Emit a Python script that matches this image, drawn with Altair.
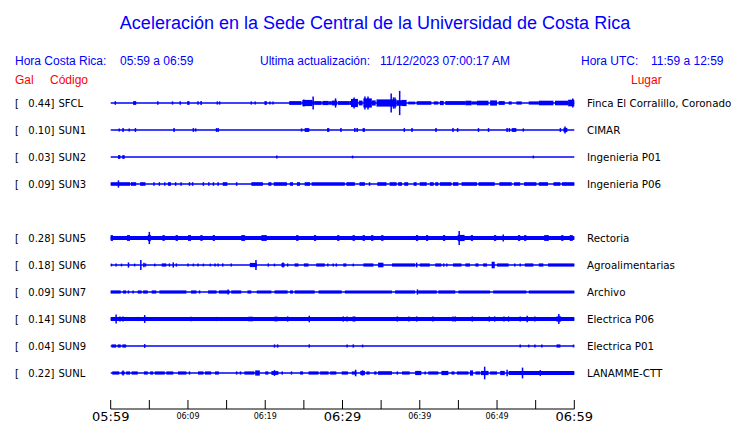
import altair as alt
import pandas as pd

# ---------------- data ----------------
TITLE = "Aceleración en la Sede Central de la Universidad de Costa Rica"
codes = ["SFCL", "SUN1", "SUN2", "SUN3", "SUN5", "SUN6", "SUN7", "SUN8", "SUN9", "SUNL"]
rows = [0, 1, 2, 3, 5, 6, 7, 8, 9, 10]
gal = ["0.44", "0.10", "0.03", "0.09", "0.28", "0.18", "0.09", "0.14", "0.04", "0.22"]
places = ["Finca El Corralillo, Coronado", "CIMAR", "Ingenieria P01", "Ingenieria P06",
          "Rectoria", "Agroalimentarias", "Archivo", "Electrica P06", "Electrica P01", "LANAMME-CTT"]

tick_minutes = list(range(0, 61, 5))
big_minutes = [0, 30, 60]
big_labels = ["05:59", "06:29", "06:59"]
small_minutes = [10, 20, 40, 50]
small_labels = ["06:09", "06:19", "06:39", "06:49"]

# trace envelopes: (start minute, end minute, half amplitude) ; start == end -> single spike
sfcl = [(2.9, 3.3, 1.3), (9.9, 10.2, 1.3), (19.9, 20.2, 1.3), (23.1, 24.7, 1.3), (24.8, 26.1, 2.5),
        (26.1, 26.4, 1.5), (26.4, 27.3, 1.3), (27.4, 28.2, 1.5), (28.2, 28.6, 1.2), (28.6, 29.3, 1.8),
        (29.4, 30.9, 1.3), (30.9, 31.1, 1.5), (31.1, 32.0, 3.5), (32.1, 32.6, 1.8), (32.7, 33.8, 4.0),
        (33.8, 34.3, 2.0), (34.4, 37.0, 3.0), (37.0, 37.7, 2.2), (37.7, 38.3, 2.5), (38.5, 39.4, 0.8),
        (39.6, 41.5, 1.2), (41.8, 42.4, 1.0), (42.6, 43.1, 1.5), (43.3, 45.9, 1.3), (45.9, 46.7, 1.7),
        (46.7, 47.4, 1.0), (47.4, 48.9, 1.7), (49.1, 50.0, 2.0), (50.2, 51.0, 1.3), (51.5, 51.9, 1.0),
        (52.5, 53.2, 1.0), (54.1, 55.4, 1.0), (55.4, 57.3, 1.7), (57.5, 59.2, 1.7), (59.2, 60.0, 2.7),
        (0.6, 0.6, 1.2), (6.1, 6.1, 1.2), (8.0, 8.0, 1.0), (9.0, 9.0, 1.2), (11.3, 11.3, 1.2),
        (11.7, 11.7, 1.3), (13.8, 13.8, 1.0), (14.1, 14.1, 1.0), (18.2, 18.2, 1.0), (18.7, 18.7, 1.0),
        (20.6, 20.6, 1.0), (21.0, 21.0, 0.8), (25.0, 25.0, 3.0), (26.2, 26.2, 6.0), (29.1, 29.1, 4.0),
        (31.5, 31.5, 5.0), (32.9, 32.9, 6.0), (33.3, 33.3, 6.0), (36.3, 36.3, 9.0), (36.6, 36.6, 5.0),
        (36.8, 36.8, 5.0), (37.4, 37.4, 11.5), (59.8, 59.8, 4.0)]
sun1 = [(1.1, 1.1, 0.8), (1.6, 1.6, 1.3), (2.4, 2.4, 0.8), (3.2, 3.2, 1.3), (8.2, 8.2, 1.3),
        (10.7, 10.7, 1.3), (11.0, 11.0, 1.0), (13.7, 13.7, 1.3), (13.9, 13.9, 1.3), (24.7, 24.7, 1.0),
        (25.1, 25.7, 1.3), (28.0, 28.3, 1.3), (29.8, 29.8, 1.3), (31.6, 31.6, 1.3), (31.9, 31.9, 1.3),
        (32.6, 32.9, 1.3), (38.0, 38.0, 1.3), (39.0, 39.0, 1.3), (42.1, 42.1, 1.3), (44.3, 44.3, 1.3),
        (44.8, 45.0, 1.3), (47.6, 47.6, 1.3), (48.9, 48.9, 1.3), (51.3, 51.3, 1.3), (51.6, 51.6, 1.3),
        (51.9, 52.5, 1.3), (53.4, 53.4, 1.0), (58.2, 58.2, 1.3), (58.6, 59.1, 1.5), (58.8, 58.8, 3.0)]
sun2 = [(0.95, 1.25, 1.3), (1.5, 1.8, 1.3), (21.5, 21.5, 0.8), (31.3, 31.3, 0.8), (54.7, 54.7, 0.8)]
sun3 = [(0.0, 2.5, 1.2), (2.6, 3.3, 1.2), (3.8, 4.5, 1.2), (5.6, 5.6, 1.2), (6.3, 6.3, 1.2),
        (7.0, 7.0, 1.2), (7.4, 7.8, 1.2), (8.4, 8.4, 1.2), (9.1, 9.1, 1.2), (10.2, 10.2, 1.2),
        (10.6, 10.6, 1.2), (12.0, 12.0, 1.2), (12.7, 12.7, 1.2), (13.3, 13.3, 1.2), (13.9, 13.9, 1.2),
        (14.5, 15.1, 1.2), (16.2, 16.4, 1.2), (18.2, 19.7, 1.2), (20.4, 20.8, 1.2), (21.1, 22.8, 1.2),
        (23.2, 23.6, 1.2), (24.1, 24.5, 1.2), (25.1, 25.8, 1.2), (26.0, 30.3, 1.2), (30.5, 31.6, 1.2),
        (32.2, 32.9, 1.2), (33.5, 33.5, 1.2), (34.5, 35.7, 1.2), (36.1, 37.0, 1.2), (37.2, 37.7, 1.2),
        (38.0, 38.5, 1.2), (39.2, 39.6, 1.2), (40.0, 40.9, 1.2), (41.3, 41.8, 1.2), (42.0, 42.4, 1.2),
        (42.6, 44.1, 1.2), (44.3, 45.0, 1.2), (45.4, 47.4, 1.2), (47.6, 49.7, 1.2), (50.3, 51.9, 1.2),
        (52.2, 53.0, 1.2), (53.5, 55.1, 1.2), (55.4, 56.6, 1.2), (57.3, 58.2, 1.2), (58.4, 60.0, 1.2),
        (1.0, 1.0, 3.0)]
sun5 = [(0.0, 60.0, 1.3), (0.0, 0.3, 2.3), (2.1, 2.5, 2.3), (5.0, 5.0, 5.5), (4.8, 5.2, 2.5),
        (6.7, 7.0, 2.3), (8.4, 8.7, 2.3), (10.0, 10.4, 2.3), (11.6, 11.9, 2.3), (13.2, 13.5, 2.3),
        (16.9, 17.4, 2.3), (19.5, 20.2, 2.3), (24.0, 24.3, 2.3), (26.3, 26.6, 2.3), (29.3, 29.6, 2.3),
        (31.3, 31.6, 2.3), (32.6, 32.9, 2.3), (33.7, 34.0, 2.3), (35.0, 35.3, 2.3), (39.5, 39.8, 2.3),
        (40.8, 41.1, 2.3), (43.0, 43.3, 2.3), (45.1, 45.1, 6.5), (44.9, 45.8, 2.5), (46.6, 46.9, 2.3),
        (49.6, 49.9, 2.3), (50.8, 50.8, 3.0), (52.7, 53.0, 2.3), (53.5, 53.8, 2.3), (56.1, 56.7, 2.3),
        (58.3, 58.6, 2.3), (59.4, 59.8, 2.3)]
sun6 = [(0.1, 0.1, 0.8), (0.7, 0.7, 0.8), (1.4, 1.4, 0.8), (2.3, 2.3, 2.0), (3.1, 3.1, 0.8),
        (3.9, 3.9, 4.5), (4.3, 4.3, 1.7), (4.4, 4.6, 1.0), (5.7, 5.7, 0.8), (6.6, 7.2, 1.0),
        (7.6, 7.6, 1.0), (8.1, 8.1, 2.0), (8.5, 8.5, 1.0), (10.0, 10.0, 0.8), (10.7, 10.7, 0.8),
        (11.3, 11.3, 0.8), (12.0, 12.0, 0.8), (12.9, 12.9, 0.8), (13.5, 13.5, 0.8), (13.9, 13.9, 0.8),
        (14.5, 14.5, 1.0), (15.6, 15.6, 0.8), (18.0, 18.9, 1.5), (18.8, 18.8, 4.5), (20.4, 20.4, 1.0),
        (21.2, 21.2, 0.8), (22.1, 22.5, 1.3), (22.3, 22.3, 2.0), (22.9, 22.9, 1.0), (23.8, 24.3, 1.0),
        (25.0, 25.6, 1.0), (26.6, 27.7, 1.0), (28.1, 28.1, 1.0), (28.8, 28.8, 1.0), (29.2, 29.2, 1.0),
        (30.1, 30.5, 1.0), (31.4, 31.4, 0.8), (32.7, 34.0, 1.0), (34.6, 35.3, 1.7), (36.4, 39.4, 1.0),
        (39.6, 39.6, 1.7), (40.0, 41.3, 1.0), (42.0, 42.8, 1.0), (43.1, 43.1, 1.0), (43.5, 43.5, 1.0),
        (44.3, 45.4, 1.0), (45.9, 46.5, 1.0), (47.2, 47.6, 1.0), (48.2, 48.7, 1.0), (49.3, 49.7, 2.7),
        (50.0, 51.5, 1.0), (52.3, 52.3, 1.0), (53.0, 53.0, 1.0), (53.6, 54.7, 1.0), (55.4, 56.0, 1.0),
        (56.6, 60.0, 1.0)]
sun7 = [(0.0, 1.3, 1.0), (1.6, 2.0, 1.0), (2.3, 2.3, 1.0), (2.9, 2.9, 1.0), (3.5, 4.0, 1.0),
        (4.2, 4.8, 1.0), (5.3, 5.9, 1.0), (6.3, 9.8, 1.0), (10.4, 11.1, 1.0), (11.5, 11.5, 1.0),
        (12.6, 13.7, 1.0), (14.0, 15.4, 1.0), (15.2, 15.2, 2.0), (15.6, 16.9, 1.0), (17.7, 18.2, 1.0),
        (18.9, 20.8, 1.0), (21.2, 22.9, 1.0), (23.2, 23.6, 1.0), (23.8, 26.4, 1.0), (26.9, 29.9, 1.0),
        (30.3, 36.4, 1.0), (36.8, 39.4, 1.0), (39.7, 39.7, 2.0), (39.8, 42.2, 1.0), (42.4, 44.6, 1.0),
        (45.0, 49.1, 1.0), (49.5, 53.8, 1.0), (54.1, 60.0, 1.0)]
sun8 = [(0.0, 60.0, 1.4), (0.7, 0.7, 4.0), (1.2, 1.2, 2.0), (1.6, 1.6, 2.0), (3.5, 3.5, 1.5),
        (4.4, 4.4, 3.3), (10.4, 10.4, 1.7), (13.7, 13.7, 1.5), (14.3, 14.3, 1.5), (17.8, 18.4, 1.7),
        (21.2, 21.6, 1.8), (22.9, 22.9, 2.0), (25.7, 25.7, 2.7), (30.1, 30.1, 2.0), (30.6, 30.6, 2.0),
        (31.4, 31.4, 2.0), (31.6, 31.6, 2.0), (37.1, 37.1, 2.0), (38.6, 38.6, 2.0), (39.6, 39.6, 2.0),
        (41.7, 41.7, 2.0), (44.3, 44.3, 2.0), (44.6, 44.6, 2.0), (46.8, 46.8, 2.0), (49.0, 49.0, 2.0),
        (49.7, 49.7, 2.0), (50.9, 50.9, 2.0), (51.5, 51.5, 2.0), (53.0, 53.0, 2.0), (53.9, 53.9, 2.7),
        (54.9, 54.9, 2.0), (57.7, 58.3, 2.0), (58.0, 58.0, 4.5)]
sun9 = [(0.1, 0.7, 1.0), (0.9, 1.3, 1.0), (1.5, 2.0, 1.0), (4.4, 4.4, 1.3), (21.2, 21.2, 1.0),
        (21.6, 21.6, 1.0), (25.6, 25.8, 1.0), (30.6, 30.6, 0.8), (31.3, 31.5, 1.0), (32.6, 32.6, 0.8),
        (53.0, 53.0, 0.8), (54.1, 54.1, 0.8), (54.9, 54.9, 0.8), (55.8, 55.8, 0.8), (57.7, 58.2, 1.0),
        (59.9, 59.9, 0.8)]
sunl = [(0.2, 1.1, 1.0), (1.4, 1.8, 1.0), (1.6, 1.6, 2.0), (2.0, 2.5, 1.0), (2.7, 3.5, 1.0),
        (4.3, 4.8, 1.0), (5.1, 5.5, 1.0), (5.7, 7.0, 1.0), (7.2, 8.1, 1.0), (8.7, 9.8, 1.0),
        (10.2, 10.2, 1.0), (11.3, 12.0, 1.0), (12.2, 13.0, 1.0), (13.5, 14.0, 1.0), (16.3, 16.3, 1.0),
        (16.7, 16.9, 1.0), (17.3, 18.6, 1.0), (18.7, 19.3, 2.0), (20.0, 20.4, 1.0), (20.8, 21.7, 1.3),
        (21.2, 21.2, 2.3), (22.1, 22.3, 1.0), (23.4, 23.4, 1.0), (24.5, 24.9, 1.0), (25.6, 26.9, 1.0),
        (27.1, 28.2, 1.0), (28.4, 29.2, 1.0), (29.9, 30.7, 1.0), (31.2, 31.8, 1.0), (31.7, 31.7, 2.7),
        (32.3, 32.9, 1.5), (32.6, 32.6, 2.0), (33.1, 33.5, 1.0), (34.1, 34.4, 1.0), (34.6, 36.4, 1.2),
        (37.0, 37.2, 1.0), (37.7, 38.7, 1.0), (39.4, 40.2, 1.5), (40.6, 40.8, 1.0), (41.1, 42.4, 1.0),
        (42.8, 43.7, 1.5), (44.1, 44.5, 1.0), (44.8, 46.3, 1.0), (46.5, 46.9, 2.0), (47.2, 47.8, 1.0),
        (47.9, 48.9, 1.5), (48.4, 48.4, 5.7), (49.1, 50.0, 1.0), (50.4, 51.0, 1.5), (51.3, 51.3, 2.7),
        (51.5, 60.0, 1.3), (53.3, 53.3, 4.8), (55.6, 55.6, 2.3)]

envelopes = [sfcl, sun1, sun2, sun3, sun5, sun6, sun7, sun8, sun9, sunl]

# ---------------- build tables ----------------
ROW_PX = 27.0   # pixels between two trace rows
PAD = 0.6       # extra drawing thickness (px) so bands read like the original pen width
recs = []
for code, row, env in zip(codes, rows, envelopes):
    for t0, t1, h in env:
        hh = (h + PAD) / ROW_PX
        recs.append(dict(code=code, t0=t0, t1=t1, ytop=row - hh, ybot=row + hh))
env_df = pd.DataFrame(recs)
blocks_df = env_df[env_df.t1 > env_df.t0]
spikes_df = env_df[env_df.t1 == env_df.t0]
stations_df = pd.DataFrame(dict(code=codes, row=rows, gal=[g + "]" for g in gal], place=places,
                                t0=[0] * len(codes), t1=[60] * len(codes)))
ticks_df = pd.DataFrame(dict(t=tick_minutes))
big_df = pd.DataFrame(dict(t=big_minutes, lab=big_labels))
small_df = pd.DataFrame(dict(t=small_minutes, lab=small_labels))

BLUE = "#0000ff"
RED = "#ff0000"
xs = alt.Scale(domain=[0, 60], range=[102.7, 566.3], nice=False, zero=False)
ys = alt.Scale(domain=[0, 10], range=[95, 365], nice=False, zero=False)

X0 = alt.X("t0:Q", scale=xs, axis=None)

baselines = alt.Chart(stations_df).mark_rule(color=BLUE, strokeWidth=1.3).encode(
    x=X0, x2="t1:Q", y=alt.Y("row:Q", scale=ys, axis=None))
blocks = alt.Chart(blocks_df).mark_rect(color=BLUE).encode(
    x=X0, x2="t1:Q", y=alt.Y("ytop:Q", scale=ys, axis=None), y2="ybot:Q")
spikes = alt.Chart(spikes_df).mark_rule(color=BLUE, strokeWidth=1.5).encode(
    x=X0, y=alt.Y("ytop:Q", scale=ys, axis=None), y2="ybot:Q")

ROWY = alt.Y("row:Q", scale=ys, axis=None)
lab_kw = dict(font="DejaVu Sans", fontSize=10, color="black", baseline="alphabetic", dy=3.7)
brk = alt.Chart(stations_df).mark_text(text="[", align="left", **lab_kw).encode(x=alt.value(7), y=ROWY)
galt = alt.Chart(stations_df).mark_text(align="right", **lab_kw).encode(x=alt.value(46.5), y=ROWY, text="gal:N")
codet = alt.Chart(stations_df).mark_text(align="left", **lab_kw).encode(x=alt.value(50.5), y=ROWY, text="code:N")
placet = alt.Chart(stations_df).mark_text(align="left", font="DejaVu Sans", fontSize=10.3, color="black",
                                          baseline="alphabetic", dy=3.7).encode(
    x=alt.value(579), y=ROWY, text="place:N")

# time axis
axis_line = alt.Chart(pd.DataFrame(dict(t0=[0], t1=[60]))).mark_rule(color="black", strokeWidth=1).encode(
    x=X0, x2="t1:Q", y=alt.value(401))
ticks = alt.Chart(ticks_df).mark_rule(color="black", strokeWidth=1).encode(
    x=alt.X("t:Q", scale=xs, axis=None), y=alt.value(392), y2=alt.value(401))
big_t = alt.Chart(big_df).mark_text(font="DejaVu Sans", fontSize=13, color="black",
                                    baseline="alphabetic", align="center").encode(
    x=alt.X("t:Q", scale=xs, axis=None), y=alt.value(413), text="lab:N")
small_t = alt.Chart(small_df).mark_text(font="DejaVu Sans", fontSize=8, color="black",
                                        baseline="alphabetic", align="center").encode(
    x=alt.X("t:Q", scale=xs, axis=None), y=alt.value(410.7), text="lab:N")


def label(txt, x, y, size, color, align="left", font="Liberation Sans"):
    return alt.Chart(pd.DataFrame(dict(s=[txt]))).mark_text(
        font=font, fontSize=size, color=color, align=align, baseline="alphabetic").encode(
        x=alt.value(x), y=alt.value(y), text="s:N")


texts = [
    label(TITLE, 367, 21, 18, BLUE, align="center"),
    label("Hora Costa Rica:", 7, 57, 12, BLUE),
    label("05:59 a 06:59", 112, 57, 12, BLUE),
    label("Ultima actualización:", 252, 57, 12, BLUE),
    label("11/12/2023 07:00:17 AM", 372, 57, 12, BLUE),
    label("Hora UTC:", 573, 57, 12, BLUE),
    label("11:59 a 12:59", 643, 57, 12, BLUE),
    label("Gal", 7, 76, 12, RED),
    label("Código", 42, 76, 12, RED),
    label("Lugar", 623, 76, 12, RED),
]

chart = alt.layer(baselines, blocks, spikes, brk, galt, codet, placet,
                  axis_line, ticks, big_t, small_t, *texts).properties(
    width=724, height=415, autosize=alt.AutoSizeParams(type="none"), padding=0,
    background="white"
).configure_view(stroke=None)

chart.save("out.html", embed_options={"renderer": "svg", "actions": False})
